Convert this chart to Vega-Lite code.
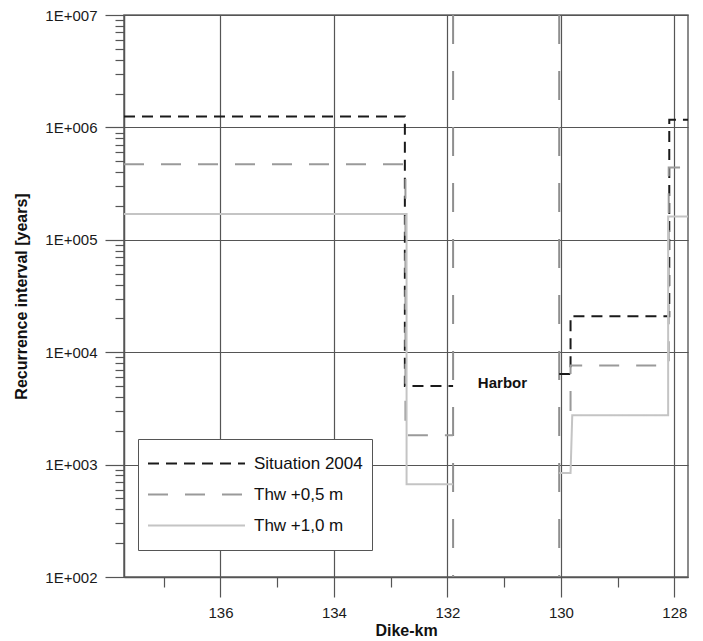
{
  "$schema": "https://vega.github.io/schema/vega-lite/v6.json",
  "width": 564,
  "height": 562,
  "autosize": {"type": "none"},
  "padding": {"left": 124, "top": 15, "right": 15, "bottom": 64},
  "background": "white",
  "config": {
    "font": "Liberation Sans",
    "view": {"stroke": "#666666", "strokeWidth": 1.5},
    "axis": {
      "labelFont": "Liberation Sans",
      "labelFontSize": 15,
      "labelColor": "#1a1a1a",
      "titleFont": "Liberation Sans",
      "titleFontSize": 16,
      "titleFontWeight": "bold",
      "titleColor": "#111111",
      "gridColor": "#555555",
      "gridWidth": 1.2,
      "tickColor": "#555555",
      "tickWidth": 1.2,
      "domainColor": "#555555",
      "domainWidth": 1.5
    },
    "legend": {
      "orient": "none",
      "legendX": 14,
      "legendY": 424,
      "title": null,
      "symbolType": "stroke",
      "symbolSize": 9409,
      "clipHeight": 31,
      "rowPadding": 0,
      "padding": 9,
      "strokeColor": "#555555",
      "fillColor": "white",
      "labelFont": "Liberation Sans",
      "labelFontSize": 17,
      "labelColor": "#111111",
      "labelOffset": 8,
      "labelLimit": 300
    }
  },
  "layer": [
    {
      "data": {"values": [{"km": 131.90}, {"km": 130.03}]},
      "mark": {"type": "rule", "stroke": "#8f8f8f", "strokeWidth": 2, "strokeDash": [29, 27], "clip": true},
      "encoding": {
        "x": {
          "field": "km",
          "type": "quantitative",
          "scale": {"domain": [137.7, 127.76], "nice": false, "zero": false},
          "axis": {
            "title": "Dike-km",
            "format": "d",
            "values": [137, 136, 135, 134, 133, 132, 131, 130, 129, 128],
            "labelExpr": "datum.value % 2 == 0 ? datum.label : ''",
            "tickSize": {"condition": {"test": "datum.value % 2 == 0", "value": 20}, "value": 10},
            "gridOpacity": {"condition": {"test": "datum.value % 2 == 0", "value": 1}, "value": 0},
            "labelPadding": 8,
            "titlePadding": 2,
            "grid": true
          }
        }
      }
    },
    {
      "data": {
        "values": [
          {"series": "Situation 2004", "seg": "S-a", "i": 1, "km": 137.70, "value": 1250000},
          {"series": "Situation 2004", "seg": "S-a", "i": 2, "km": 132.75, "value": 1250000},
          {"series": "Situation 2004", "seg": "S-a", "i": 3, "km": 132.75, "value": 5000},
          {"series": "Situation 2004", "seg": "S-a", "i": 4, "km": 131.90, "value": 5000},
          {"series": "Situation 2004", "seg": "S-b", "i": 1, "km": 130.03, "value": 6400},
          {"series": "Situation 2004", "seg": "S-b", "i": 2, "km": 129.83, "value": 6400},
          {"series": "Situation 2004", "seg": "S-b", "i": 3, "km": 129.83, "value": 20900},
          {"series": "Situation 2004", "seg": "S-b", "i": 4, "km": 128.09, "value": 20900},
          {"series": "Situation 2004", "seg": "S-b", "i": 5, "km": 128.09, "value": 1170000},
          {"series": "Situation 2004", "seg": "S-b", "i": 6, "km": 127.76, "value": 1170000},
          {"series": "Thw +0,5 m", "seg": "A-a", "i": 1, "km": 137.70, "value": 470000},
          {"series": "Thw +0,5 m", "seg": "A-a", "i": 2, "km": 132.74, "value": 470000},
          {"series": "Thw +0,5 m", "seg": "A-a", "i": 3, "km": 132.74, "value": 1820},
          {"series": "Thw +0,5 m", "seg": "A-a", "i": 4, "km": 131.90, "value": 1820},
          {"series": "Thw +0,5 m", "seg": "A-b", "i": 1, "km": 129.83, "value": 3000},
          {"series": "Thw +0,5 m", "seg": "A-b", "i": 2, "km": 129.83, "value": 7600},
          {"series": "Thw +0,5 m", "seg": "A-b", "i": 3, "km": 128.10, "value": 7600},
          {"series": "Thw +0,5 m", "seg": "A-b", "i": 4, "km": 128.10, "value": 440000},
          {"series": "Thw +0,5 m", "seg": "A-b", "i": 5, "km": 127.76, "value": 440000},
          {"series": "Thw +1,0 m", "seg": "B-a", "i": 1, "km": 137.70, "value": 170000},
          {"series": "Thw +1,0 m", "seg": "B-a", "i": 2, "km": 132.72, "value": 170000},
          {"series": "Thw +1,0 m", "seg": "B-a", "i": 3, "km": 132.72, "value": 670},
          {"series": "Thw +1,0 m", "seg": "B-a", "i": 4, "km": 131.90, "value": 670},
          {"series": "Thw +1,0 m", "seg": "B-b", "i": 1, "km": 130.03, "value": 840},
          {"series": "Thw +1,0 m", "seg": "B-b", "i": 2, "km": 129.83, "value": 840},
          {"series": "Thw +1,0 m", "seg": "B-b", "i": 3, "km": 129.80, "value": 2750},
          {"series": "Thw +1,0 m", "seg": "B-b", "i": 4, "km": 128.11, "value": 2750},
          {"series": "Thw +1,0 m", "seg": "B-b", "i": 5, "km": 128.11, "value": 161000},
          {"series": "Thw +1,0 m", "seg": "B-b", "i": 6, "km": 127.76, "value": 161000}
        ]
      },
      "mark": {"type": "line", "clip": true, "strokeCap": "butt"},
      "encoding": {
        "x": {"field": "km", "type": "quantitative"},
        "y": {
          "field": "value",
          "type": "quantitative",
          "scale": {"type": "log", "domain": [100, 10000000], "nice": false},
          "axis": {
            "title": "Recurrence interval [years]",
            "values": [100, 200, 300, 400, 500, 600, 700, 800, 900,
                       1000, 2000, 3000, 4000, 5000, 6000, 7000, 8000, 9000,
                       10000, 20000, 30000, 40000, 50000, 60000, 70000, 80000, 90000,
                       100000, 200000, 300000, 400000, 500000, 600000, 700000, 800000, 900000,
                       1000000, 2000000, 3000000, 4000000, 5000000, 6000000, 7000000, 8000000, 9000000,
                       10000000],
            "labelExpr": "abs(log(datum.value)/LN10 - round(log(datum.value)/LN10)) < 0.001 ? '1E+00' + round(log(datum.value)/LN10) : ''",
            "tickSize": {"condition": {"test": "abs(log(datum.value)/LN10 - round(log(datum.value)/LN10)) < 0.001", "value": 19}, "value": 9},
            "gridOpacity": {"condition": {"test": "abs(log(datum.value)/LN10 - round(log(datum.value)/LN10)) < 0.001", "value": 1}, "value": 0},
            "labelPadding": 8,
            "titlePadding": 15,
            "grid": true
          }
        },
        "detail": {"field": "seg"},
        "order": {"field": "i"},
        "color": {
          "field": "series",
          "type": "nominal",
          "scale": {"domain": ["Situation 2004", "Thw +0,5 m", "Thw +1,0 m"], "range": ["#1a1a1a", "#9a9a9a", "#c4c4c4"]}
        },
        "strokeDash": {
          "field": "series",
          "type": "nominal",
          "scale": {"domain": ["Situation 2004", "Thw +0,5 m", "Thw +1,0 m"], "range": [[11, 7], [20, 17], [1, 0]]}
        },
        "strokeWidth": {
          "field": "series",
          "type": "nominal",
          "scale": {"domain": ["Situation 2004", "Thw +0,5 m", "Thw +1,0 m"], "range": [2, 2, 1.5]}
        }
      }
    },
    {
      "data": {"values": [{"label": "Harbor"}]},
      "mark": {"type": "text", "font": "Liberation Sans", "fontSize": 15, "fontWeight": "bold", "color": "#111111"},
      "encoding": {
        "text": {"field": "label"},
        "x": {"datum": 131.03, "type": "quantitative"},
        "y": {"datum": 5300, "type": "quantitative"}
      }
    }
  ]
}
